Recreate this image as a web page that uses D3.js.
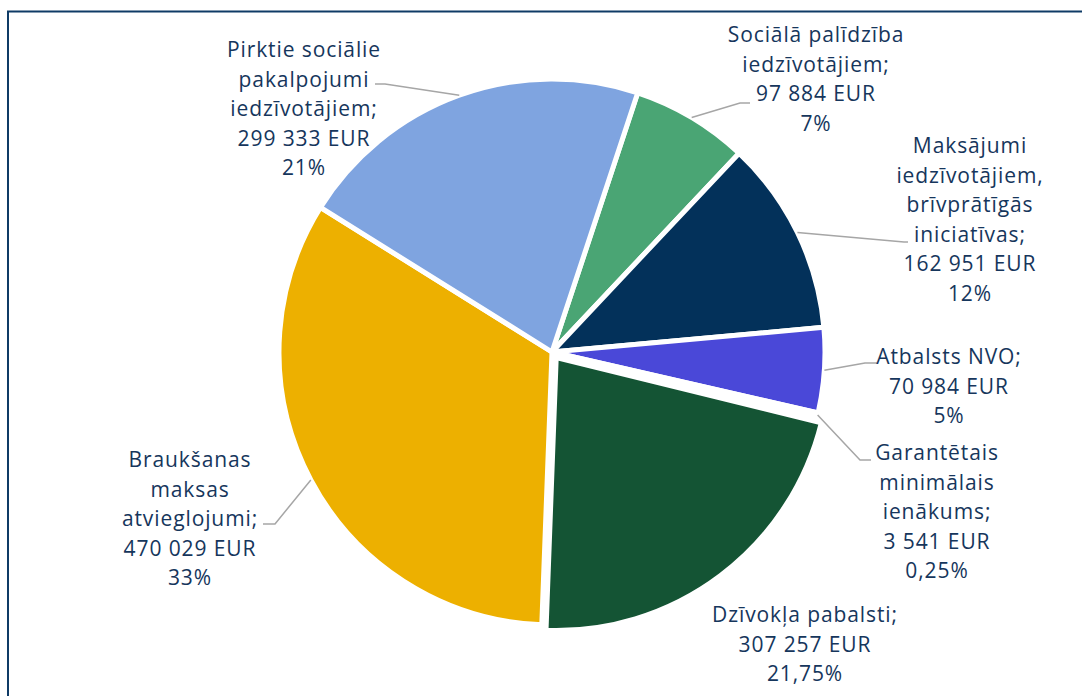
<!DOCTYPE html>
<html>
<head>
<meta charset="utf-8">
<script src="https://cdn.jsdelivr.net/npm/d3@7"></script>
<style>
  html, body { margin: 0; padding: 0; background: #fff; }
  svg { display: block; }
</style>
</head>
<body>
<svg id="chart" width="1082" height="696"></svg>
<script>
// ---- data ----
const categories = [
  ["Sociālā palīdzība", "iedzīvotājiem;"],
  ["Maksājumi", "iedzīvotājiem,", "brīvprātīgās", "iniciatīvas;"],
  ["Atbalsts NVO;"],
  ["Garantētais", "minimālais", "ienākums;"],
  ["Dzīvokļa pabalsti;"],
  ["Braukšanas", "maksas", "atvieglojumi;"],
  ["Pirktie sociālie", "pakalpojumi", "iedzīvotājiem;"]
];
const values = [97884, 162951, 70984, 3541, 307257, 470029, 299333];
const percentLabels = ["7%", "12%", "5%", "0,25%", "21,75%", "33%", "21%"];

// ---- styling / layout ----
const colors = ["#4aa574", "#03315a", "#4a48d8", "#e0607a", "#145434", "#edb000", "#7fa4e0"];
const cx = 552, cy = 352, R = 273;
const startDeg = 18.3;
const explode = [0, 0, 0, 0, 7, 0, 0];
const labelPos = [
  {x: 816, y: 42},
  {x: 970, y: 153},
  {x: 949, y: 364},
  {x: 937, y: 460},
  {x: 805, y: 622},
  {x: 190, y: 467},
  {x: 304, y: 57}
];
const leaders = [
  [[740, 103], [750, 103]],
  [[904, 242], [908, 242]],
  [[865, 363], [877, 363]],
  [[860, 460], [871, 460]],
  null,
  [[275, 524], [263, 524]],
  [[385, 84], [375, 84]]
];
const lineH = 29.5;
const textColor = "#16365c";

const svg = d3.select("#chart");

svg.append("path")
  .attr("d", "M8,700 L8,11.5 L1090,11.5")
  .attr("fill", "none")
  .attr("stroke", "#0f3b66")
  .attr("stroke-width", 2);

const fmt = v => d3.format(",")(v).replace(/,/g, " ") + " EUR";

const data = values.map((v, i) => ({v, i}));
const pie = d3.pie().value(d => d.v).sort(null)
  .startAngle(startDeg * Math.PI / 180)
  .endAngle(startDeg * Math.PI / 180 + 2 * Math.PI);
const arcs = pie(data);
const arc = d3.arc().innerRadius(0).outerRadius(R);

const g = svg.append("g").attr("transform", `translate(${cx},${cy})`);

g.selectAll("path.slice").data(arcs).enter().append("path")
  .attr("class", "slice")
  .attr("transform", d => {
    const a = (d.startAngle + d.endAngle) / 2;
    const e = explode[d.data.i];
    return `translate(${e * Math.sin(a)},${-e * Math.cos(a)})`;
  })
  .attr("d", arc)
  .attr("fill", d => colors[d.data.i])
  .attr("stroke", "#fff")
  .attr("stroke-width", 5)
  .attr("stroke-linejoin", "miter");

arcs.forEach(d => {
  const L = leaders[d.data.i];
  if (!L) return;
  const a = (d.startAngle + d.endAngle) / 2;
  const px = cx + R * Math.sin(a), py = cy - R * Math.cos(a);
  svg.append("polyline")
    .attr("points", [[px, py], L[0], L[1]].map(p => p.join(",")).join(" "))
    .attr("fill", "none")
    .attr("stroke", "#a6a6a6")
    .attr("stroke-width", 1.5);
});

categories.forEach((lines, i) => {
  const all = lines.concat([fmt(values[i]), percentLabels[i]]);
  const t = svg.append("text")
    .attr("text-anchor", "middle")
    .attr("font-family", "'Open Sans', 'Noto Sans', sans-serif")
    .attr("font-size", 21)
    .attr("letter-spacing", 0.9)
    .attr("fill", textColor);
  all.forEach((s, k) => {
    t.append("tspan")
      .attr("x", labelPos[i].x)
      .attr("y", labelPos[i].y + k * lineH)
      .text(s);
  });
});
</script>
</body>
</html>
